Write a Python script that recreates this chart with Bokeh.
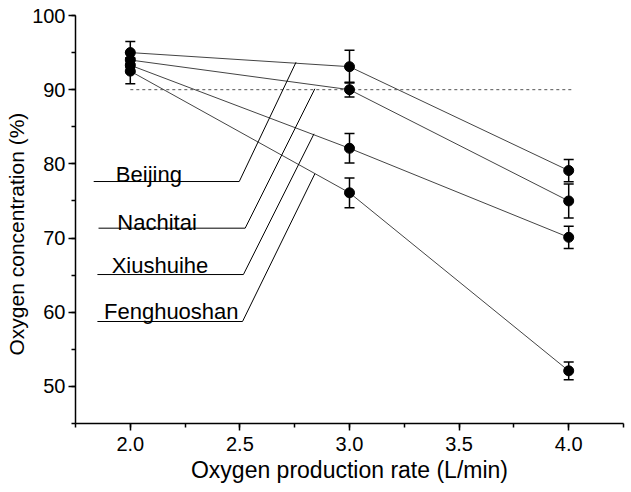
from bokeh.plotting import figure
from bokeh.models import Range1d, SingleIntervalTicker, NumeralTickFormatter, Whisker, ColumnDataSource, TeeHead
from bokeh.core.properties import value
from bokeh.embed import file_html
from bokeh.resources import INLINE

# ---- data ----
rates = [2.0, 3.0, 4.0]
beijing = [95.0, 93.1, 79.1]
beijing_err = [1.5, 2.2, 1.5]
nachitai = [94.0, 90.0, 75.0]
nachitai_err = [1.0, 1.0, 2.3]
xiushuihe = [93.3, 82.1, 70.1]
xiushuihe_err = [1.0, 2.0, 1.5]
fenghuoshan = [92.5, 76.1, 52.1]
fenghuoshan_err = [1.7, 2.0, 1.2]
threshold = 90.0
threshold_span = [2.0, 4.02]

names = ["Beijing", "Nachitai", "Xiushuihe", "Fenghuoshan"]
series = [beijing, nachitai, xiushuihe, fenghuoshan]
errors = [beijing_err, nachitai_err, xiushuihe_err, fenghuoshan_err]

# label annotation geometry (data units)
text_x = [1.934, 1.941, 1.915, 1.88]
text_y = [78.57, 72.09, 66.30, 60.10]
under_x0 = [1.833, 1.855, 1.85, 1.85]
under_x1 = [2.497, 2.524, 2.516, 2.512]
under_y = [77.62, 71.33, 65.08, 58.75]
point_x = [2.756, 2.842, 2.838, 2.842]
point_y = [93.70, 90.12, 84.05, 78.66]

FONT = "Liberation Sans"

p = figure(width=631, height=492, output_backend="svg", toolbar_location=None,
           x_range=Range1d(1.75, 4.25), y_range=Range1d(45, 100),
           min_border_left=75, min_border_right=8, min_border_top=15, min_border_bottom=69)
p.outline_line_color = None
p.xgrid.visible = False
p.ygrid.visible = False
p.background_fill_color = "white"
p.border_fill_color = "white"

p.xaxis.ticker = SingleIntervalTicker(interval=0.5, num_minor_ticks=2)
p.yaxis.ticker = SingleIntervalTicker(interval=10, num_minor_ticks=2)
p.xaxis.formatter = NumeralTickFormatter(format="0.0")
p.yaxis.formatter = NumeralTickFormatter(format="0")
p.xaxis.axis_label = "Oxygen production rate (L/min)"
# trailing no-break spaces nudge the centred title slightly down, as in the reference
p.yaxis.axis_label = "Oxygen concentration (%)" + "\u00a0" * 5

for ax in (p.xaxis, p.yaxis):
    ax.axis_line_color = "black"
    ax.axis_line_width = 1.5
    ax.major_tick_line_color = "black"
    ax.major_tick_line_width = 1.5
    ax.minor_tick_line_color = "black"
    ax.minor_tick_line_width = 1.5
    ax.major_tick_in = 0
    ax.major_tick_out = 7
    ax.minor_tick_in = 0
    ax.minor_tick_out = 4
    ax.major_label_text_font = FONT
    ax.major_label_text_font_size = "20px"
    ax.major_label_text_color = "black"
    ax.axis_label_text_font = FONT
    ax.axis_label_text_font_style = "normal"
    ax.axis_label_text_color = "black"

p.xaxis.axis_label_text_font_size = "23px"
p.yaxis.axis_label_text_font_size = "21px"
p.xaxis.major_label_standoff = 6
p.xaxis.axis_label_standoff = 3
p.yaxis.major_label_standoff = 3
p.yaxis.axis_label_standoff = 1

# threshold dotted line
p.line(threshold_span, [threshold, threshold], line_color="#555555", line_width=1, line_dash="3 3")

for vals, errs in zip(series, errors):
    src = ColumnDataSource(dict(x=rates, y=vals,
                                lo=[v - e for v, e in zip(vals, errs)],
                                hi=[v + e for v, e in zip(vals, errs)]))
    p.line("x", "y", source=src, line_color="#444444", line_width=1)
    w = Whisker(base="x", lower="lo", upper="hi", source=src, dimension="height",
                line_color="black", line_width=1.5,
                upper_head=TeeHead(size=10, line_color="black", line_width=1.5),
                lower_head=TeeHead(size=10, line_color="black", line_width=1.5))
    p.add_layout(w)
    p.scatter("x", "y", source=src, size=10, color="black")

# labels with leader lines
for i, name in enumerate(names):
    p.line([under_x0[i], under_x1[i], point_x[i]], [under_y[i], under_y[i], point_y[i]],
           line_color="black", line_width=1)
    p.text(x=[text_x[i]], y=[text_y[i]], text=[name], text_font=value(FONT),
           text_font_size="22px", text_color="black", text_baseline="alphabetic",
           text_align="left")

open("out.html", "w").write(file_html(p, INLINE))
